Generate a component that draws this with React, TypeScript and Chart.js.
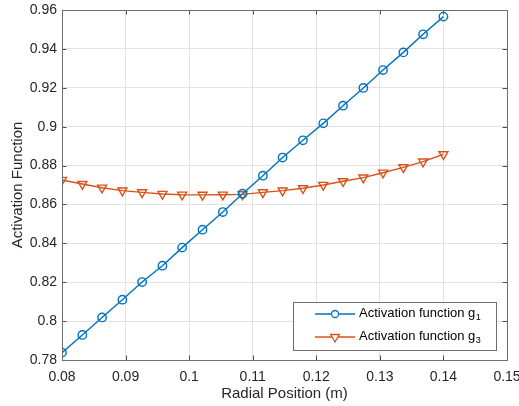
import React, { useEffect, useRef } from "react";
import { Chart, registerables } from "chart.js";

Chart.register(...registerables);

const xValues = [0.08, 0.0832, 0.0863, 0.0895, 0.0926, 0.0958, 0.0989, 0.1021, 0.1053, 0.1084, 0.1116, 0.1147, 0.1179, 0.1211, 0.1242, 0.1274, 0.1305, 0.1337, 0.1368, 0.14];
const g1Values = [0.7838, 0.7929, 0.8019, 0.811, 0.8201, 0.8285, 0.8378, 0.847, 0.8561, 0.8655, 0.8748, 0.8841, 0.893, 0.9017, 0.9108, 0.9199, 0.9291, 0.9382, 0.9475, 0.9566];
const g3Values = [0.8726, 0.8705, 0.8686, 0.8671, 0.8662, 0.8654, 0.865, 0.8649, 0.865, 0.8652, 0.8662, 0.8671, 0.8683, 0.87, 0.8719, 0.8738, 0.8763, 0.8791, 0.882, 0.8858];
const seriesNames = ["Activation function g", "Activation function g"];
const seriesSubs = ["1", "3"];
const xTitle = "Radial Position (m)";
const yTitle = "Activation Function";

const BLUE = "#0072BD";
const ORANGE = "#D95319";
const TEXT = "#262626";
const FONT = "'Liberation Sans', Arial, Helvetica, sans-serif";

const fmt = (v: number) => String(Number(Number(v).toFixed(4)));

const framePlugin = {
  id: "frame",
  afterDraw(chart: any) {
    const { ctx, chartArea: a, scales } = chart;
    ctx.save();
    // inward ticks
    ctx.strokeStyle = "#4d4d4d";
    ctx.lineWidth = 1;
    const tl = 4.5;
    scales.x.ticks.forEach((t: any) => {
      const px = Math.round(scales.x.getPixelForValue(t.value)) + 0.5;
      ctx.beginPath();
      ctx.moveTo(px, a.bottom);
      ctx.lineTo(px, a.bottom - tl);
      ctx.moveTo(px, a.top);
      ctx.lineTo(px, a.top + tl);
      ctx.stroke();
    });
    scales.y.ticks.forEach((t: any) => {
      const py = Math.round(scales.y.getPixelForValue(t.value)) + 0.5;
      ctx.beginPath();
      ctx.moveTo(a.left, py);
      ctx.lineTo(a.left + tl, py);
      ctx.moveTo(a.right, py);
      ctx.lineTo(a.right - tl, py);
      ctx.stroke();
    });
    // frame
    ctx.strokeStyle = "#6e6e6e";
    ctx.lineWidth = 1;
    ctx.strokeRect(Math.round(a.left) + 0.5, Math.round(a.top) + 0.5, Math.round(a.right - a.left), Math.round(a.bottom - a.top));

    // legend
    const bx = 293.5, by = 302.5, bw = 203, bh = 48;
    ctx.fillStyle = "#ffffff";
    ctx.fillRect(bx, by, bw, bh);
    ctx.strokeStyle = "#6e6e6e";
    ctx.strokeRect(bx, by, bw, bh);
    const rows = [
      { color: BLUE, y: 314, style: "circle" },
      { color: ORANGE, y: 337, style: "tri" },
    ];
    rows.forEach((r, i) => {
      ctx.strokeStyle = r.color;
      ctx.lineWidth = 1.3;
      ctx.beginPath();
      ctx.moveTo(315, r.y);
      ctx.lineTo(355, r.y);
      ctx.stroke();
      ctx.beginPath();
      if (r.style === "circle") {
        ctx.arc(335, r.y, 3.5, 0, Math.PI * 2);
      } else {
        const rad = 5;
        ctx.moveTo(335, r.y + rad);
        ctx.lineTo(335 - rad * 0.866, r.y - rad * 0.5);
        ctx.lineTo(335 + rad * 0.866, r.y - rad * 0.5);
        ctx.closePath();
      }
      ctx.fillStyle = "#ffffff";
      ctx.fill();
      ctx.stroke();
      ctx.fillStyle = "#000000";
      ctx.font = `13px ${FONT}`;
      ctx.textBaseline = "middle";
      ctx.textAlign = "left";
      ctx.fillText(seriesNames[i], 359, r.y - 1);
      const w = ctx.measureText(seriesNames[i]).width;
      ctx.font = `9px ${FONT}`;
      ctx.fillText(seriesSubs[i], 359 + w + 0.5, r.y + 4);
    });
    ctx.restore();
  },
};

export default function App() {
  const ref = useRef<HTMLCanvasElement>(null);
  useEffect(() => {
    if (!ref.current) return;
    const chart = new Chart(ref.current, {
      type: "line",
      data: {
        datasets: [
          {
            label: seriesNames[0] + seriesSubs[0],
            data: xValues.map((x, i) => ({ x, y: g1Values[i] })),
            borderColor: BLUE,
            backgroundColor: "rgba(0,0,0,0)",
            borderWidth: 1.4,
            pointStyle: "circle",
            pointRadius: 4.2,
            pointBorderWidth: 1.4,
            pointBorderColor: BLUE,
            pointBackgroundColor: "rgba(0,0,0,0)",
            tension: 0,
          },
          {
            label: seriesNames[1] + seriesSubs[1],
            data: xValues.map((x, i) => ({ x, y: g3Values[i] })),
            borderColor: ORANGE,
            backgroundColor: "rgba(0,0,0,0)",
            borderWidth: 1.4,
            pointStyle: "triangle",
            pointRotation: 180,
            pointRadius: 5.2,
            pointBorderWidth: 1.4,
            pointBorderColor: ORANGE,
            pointBackgroundColor: "rgba(0,0,0,0)",
            tension: 0,
          },
        ],
      },
      options: {
        animation: false,
        responsive: false,
        devicePixelRatio: 1,
        layout: { padding: { top: 10, right: 12, left: 0, bottom: 0 } },
        plugins: { legend: { display: false }, tooltip: { enabled: false } },
        scales: {
          x: {
            type: "linear",
            min: 0.08,
            max: 0.15,
            grid: { color: "#e3e3e3", drawTicks: false, lineWidth: 1 },
            border: { display: false },
            ticks: {
              stepSize: 0.01,
              padding: 9,
              color: TEXT,
              font: { family: FONT, size: 14 },
              maxRotation: 0,
              callback: (v: any) => fmt(v),
            },
            title: {
              display: true,
              text: xTitle,
              color: TEXT,
              font: { family: FONT, size: 15 },
              padding: { top: 0, bottom: 3.5 },
            },
            afterFit: (s: any) => {
              s.height = 46;
              s.paddingLeft = 0;
              s.paddingRight = 0;
            },
          },
          y: {
            type: "linear",
            min: 0.78,
            max: 0.96,
            grid: { color: "#e3e3e3", drawTicks: false, lineWidth: 1 },
            border: { display: false },
            ticks: {
              stepSize: 0.02,
              padding: 5,
              color: TEXT,
              font: { family: FONT, size: 14 },
              callback: (v: any) => fmt(v),
            },
            title: {
              display: true,
              text: yTitle,
              color: TEXT,
              font: { family: FONT, size: 15 },
              padding: { top: 8.5, bottom: 0 },
            },
            afterFit: (s: any) => {
              s.width = 62;
              s.paddingTop = 0;
              s.paddingBottom = 0;
            },
          },
        },
      },
      plugins: [framePlugin],
    });
    return () => chart.destroy();
  }, []);
  return (
    <div style={{ position: "absolute", left: 0, top: 0, width: 519, height: 406, background: "#fff" }}>
      <canvas ref={ref} width={519} height={406} style={{ display: "block" }} />
    </div>
  );
}
